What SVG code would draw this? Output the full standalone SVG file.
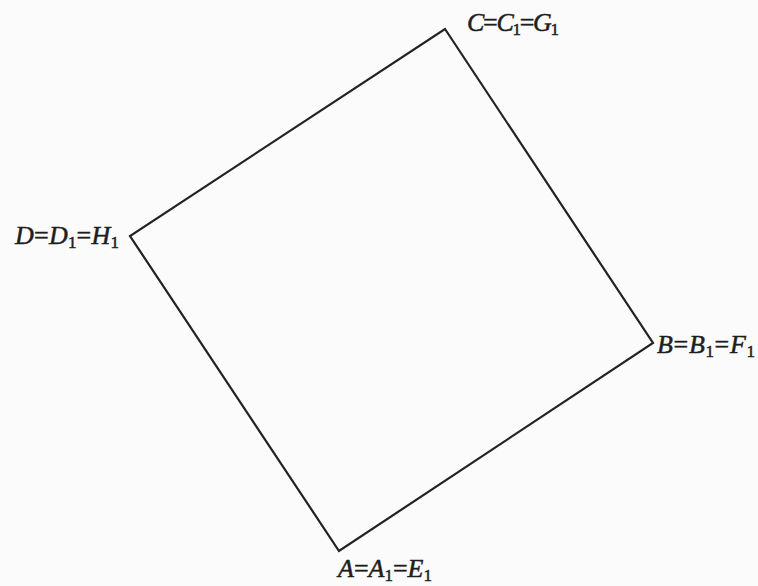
<svg xmlns="http://www.w3.org/2000/svg" width="758" height="586" viewBox="0 0 758 586">
<style>
.lbl{font-family:"Liberation Serif","Times New Roman",serif;font-size:26px;fill:#1e1e1e;stroke:#1e1e1e;stroke-width:0.5}
.v{font-style:italic}
.s{font-size:17px}
</style>
<rect width="758" height="586" fill="#fbfbfb"/>
<g id="connectors">
<polygon points="445,29 653,343 339,551 130,236" fill="none" stroke="#222" stroke-width="2.2" stroke-linejoin="miter"/>
</g>
<g id="C"><text class="lbl" x="467" y="31" textLength="92" lengthAdjust="spacing"><tspan class="v">C</tspan>=<tspan class="v">C</tspan><tspan class="s" dy="4">1</tspan><tspan dy="-4">=</tspan><tspan class="v">G</tspan><tspan class="s" dy="4">1</tspan></text></g>
<g id="D"><text class="lbl" x="15" y="244" textLength="104" lengthAdjust="spacing"><tspan class="v">D</tspan>=<tspan class="v">D</tspan><tspan class="s" dy="4">1</tspan><tspan dy="-4">=</tspan><tspan class="v">H</tspan><tspan class="s" dy="4">1</tspan></text></g>
<g id="B"><text class="lbl" x="657" y="353" textLength="98" lengthAdjust="spacing"><tspan class="v">B</tspan>=<tspan class="v">B</tspan><tspan class="s" dy="4">1</tspan><tspan dy="-4">=</tspan><tspan class="v">F</tspan><tspan class="s" dy="4">1</tspan></text></g>
<g id="A"><text class="lbl" x="338" y="577" textLength="94" lengthAdjust="spacing"><tspan class="v">A</tspan>=<tspan class="v">A</tspan><tspan class="s" dy="4">1</tspan><tspan dy="-4">=</tspan><tspan class="v">E</tspan><tspan class="s" dy="4">1</tspan></text></g>
</svg>
